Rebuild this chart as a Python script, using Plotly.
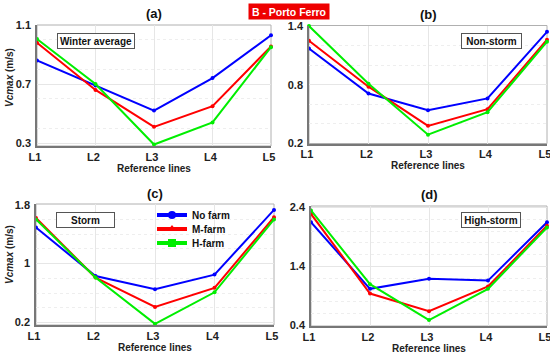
import plotly.graph_objects as go

W, H = 550, 356

categories = ["L1", "L2", "L3", "L4", "L5"]
series_names = ["No farm", "M-farm", "H-farm"]

winter_no = [0.86, 0.69, 0.52, 0.74, 1.03]
winter_m = [0.98, 0.66, 0.41, 0.55, 0.955]
winter_h = [1.005, 0.70, 0.29, 0.44, 0.95]

nonstorm_no = [1.17, 0.71, 0.54, 0.66, 1.34]
nonstorm_m = [1.25, 0.78, 0.38, 0.55, 1.26]
nonstorm_h = [1.40, 0.81, 0.29, 0.52, 1.24]

storm_no = [1.49, 0.83, 0.65, 0.85, 1.73]
storm_m = [1.62, 0.81, 0.41, 0.67, 1.63]
storm_h = [1.60, 0.81, 0.18, 0.61, 1.60]

high_no = [2.15, 1.02, 1.19, 1.16, 2.15]
high_m = [2.29, 0.94, 0.64, 1.06, 2.09]
high_h = [2.35, 1.10, 0.49, 1.02, 2.06]

panel_titles = ["(a)", "(b)", "(c)", "(d)"]
panel_labels = ["Winter average", "Non-storm", "Storm", "High-storm"]
y_ticks_a = [0.3, 0.7, 1.1]
y_ticks_b = [0.2, 0.8, 1.4]
y_ticks_c = [0.2, 1.0, 1.8]
y_ticks_d = [0.4, 1.4, 2.4]
y_ticktext_c = ["0.2", "1", "1.8"]

colors = ["#0000ff", "#ff0000", "#00ee00"]
symbols = ["circle", "triangle-up", "square"]

FONT = "Liberation Sans, Arial, sans-serif"

def px_x(x):
    return x / W

def px_y(y):
    return 1 - y / H

# panel pixel boxes: (left, right, top, bottom)
boxes = [
    (37, 271, 25, 146),
    (309, 547, 25.5, 143.5),
    (36, 274, 204, 325),
    (311, 547, 206, 326),
]
ranges = [
    [0.28, 1.1],
    [0.2, 1.405],
    [0.165, 1.81],
    [0.39, 2.425],
]
ticks = [y_ticks_a, y_ticks_b, y_ticks_c, y_ticks_d]
ticktexts = [None, None, y_ticktext_c, None]
data = [
    [winter_no, winter_m, winter_h],
    [nonstorm_no, nonstorm_m, nonstorm_h],
    [storm_no, storm_m, storm_h],
    [high_no, high_m, high_h],
]

fig = go.Figure()
layout = dict(
    template="none",
    width=W, height=H,
    margin=dict(l=0, r=0, t=0, b=0, autoexpand=False),
    paper_bgcolor="white",
    plot_bgcolor="white",
    showlegend=True,
    font=dict(family=FONT, size=10, color="#222"),
)
annotations = []
shapes = []

for i in range(4):
    l, r, t, b = boxes[i]
    xa = "xaxis" if i == 0 else f"xaxis{i+1}"
    ya = "yaxis" if i == 0 else f"yaxis{i+1}"
    xr = "x" if i == 0 else f"x{i+1}"
    yr = "y" if i == 0 else f"y{i+1}"
    layout[xa] = dict(
        domain=[px_x(l), px_x(r)], anchor=yr, automargin=False,
        type="category", range=[0, 4],
        showgrid=True, gridcolor="#e6e6e6", gridwidth=1,
        showline=True, linecolor="#777", linewidth=1.5,
        ticks="", ticklabelstandoff=0, ticklabelshift=-2,
        tickfont=dict(family=FONT, size=11, color="#222", weight="bold"),
        zeroline=False, fixedrange=True,
    )
    ydict = dict(
        domain=[px_y(b), px_y(t)], anchor=xr, automargin=False,
        range=ranges[i], tickmode="array", tickvals=ticks[i],
        showgrid=True, gridcolor="#e6e6e6", gridwidth=1,
        showline=True, linecolor="#777", linewidth=1.5,
        ticks="", ticklabelstandoff=2,
        tickfont=dict(family=FONT, size=11, color="#222", weight="bold"),
        zeroline=False,
        minor=dict(dtick=0.2, tick0=0, showgrid=True, gridcolor="#eeeeee", griddash="dot", ticks=""),
    )
    if ticktexts[i] is not None:
        ydict["ticktext"] = ticktexts[i]
    layout[ya] = ydict
    shapes.append(dict(type="rect", xref="paper", yref="paper",
                       x0=px_x(l), x1=px_x(r), y0=px_y(b), y1=px_y(t),
                       line=dict(color="#b0b0b0", width=1), layer="below"))
    for k in range(3):
        fig.add_trace(go.Scatter(
            x=categories, y=data[i][k], mode="lines+markers",
            line=dict(color=colors[k], width=2),
            marker=dict(color=colors[k], size=4, symbol="circle"),
            xaxis=xr, yaxis=yr, showlegend=False, name=series_names[k],
            cliponaxis=False,
        ))
    annotations.append(dict(text=panel_titles[i], xref="paper", yref="paper",
                            x=px_x((l + r) / 2), y=px_y(t - 11), showarrow=False,
                            font=dict(family=FONT, size=13, color="#111", weight="bold"),
                            xanchor="center", yanchor="middle"))
    annotations.append(dict(text="Reference lines", xref="paper", yref="paper",
                            x=px_x((l + r) / 2), y=px_y(b + 22), showarrow=False,
                            font=dict(family=FONT, size=10, color="#222", weight="bold"),
                            xanchor="center", yanchor="middle"))

for cy in [78, 255]:
    annotations.append(dict(text="<i>Vcmax</i> (m/s)", xref="paper", yref="paper",
                            x=px_x(9), y=px_y(cy), showarrow=False, textangle=-90,
                            font=dict(family=FONT, size=10, color="#222", weight="bold"),
                            xanchor="center", yanchor="middle"))

label_centers = [(96, 41), (491.5, 41), (85.5, 219.5), (491, 220)]
label_widths = [78, 61, 59, 60]
for i in range(4):
    cx, cy = label_centers[i]
    annotations.append(dict(text=panel_labels[i], xref="paper", yref="paper",
                            x=px_x(cx), y=px_y(cy), showarrow=False,
                            width=label_widths[i] - 2, height=14,
                            bordercolor="#555", borderwidth=1, borderpad=0, bgcolor="white",
                            font=dict(family=FONT, size=10, color="#111", weight="bold"),
                            xanchor="center", yanchor="middle"))

annotations.append(dict(text="B - Porto Ferro", xref="paper", yref="paper",
                        x=px_x(289), y=px_y(11), showarrow=False,
                        width=80, height=15, bgcolor="#ee0000", borderpad=0,
                        font=dict(family=FONT, size=10.5, color="white", weight="bold"),
                        xanchor="center", yanchor="middle"))

# legend-only traces, each in its own legend for tight spacing
legend_rows = [215, 229, 243]
for k in range(3):
    lg = "legend" if k == 0 else f"legend{k+1}"
    fig.add_trace(go.Scatter(
        x=[None], y=[None], mode="lines+markers", name=series_names[k],
        line=dict(color=colors[k], width=4),
        marker=dict(color=colors[k], size=8, symbol=symbols[k]),
        xaxis="x3", yaxis="y3", showlegend=True, legend=lg,
    ))
    layout[lg] = dict(
        x=px_x(152), y=px_y(legend_rows[k]), xanchor="left", yanchor="middle",
        bgcolor="rgba(0,0,0,0)", borderwidth=0,
        font=dict(family=FONT, size=10, color="#111", weight="bold"),
        itemwidth=30, tracegroupgap=0,
    )

layout["annotations"] = annotations
layout["shapes"] = shapes
fig.update_layout(**layout)

fig.write_html("out.html", config={"displayModeBar": False},
               post_script="document.body.style.margin='0px';document.body.style.overflow='hidden';")
